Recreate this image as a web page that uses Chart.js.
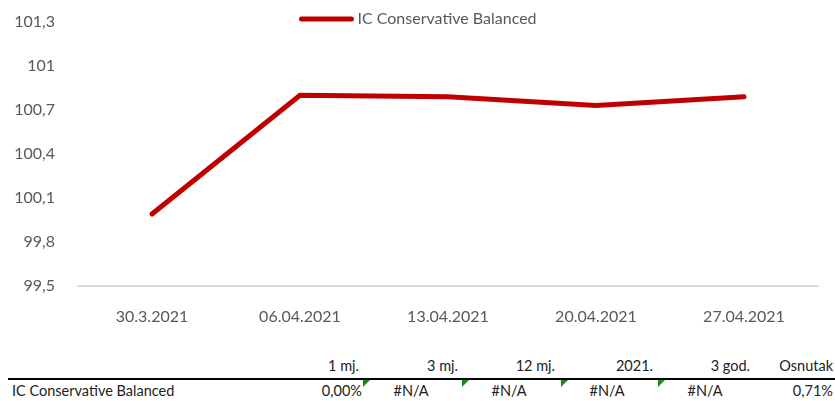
<!DOCTYPE html>
<html>
<head>
<meta charset="utf-8">
<script src="https://cdn.jsdelivr.net/npm/chart.js@4/dist/chart.umd.min.js"></script>
<style>
  html, body { margin: 0; padding: 0; background: #fff; }
  #wrap { position: relative; width: 835px; height: 401px; font-family: Lato, sans-serif; }
  #myChart { position: absolute; left: 0; top: 0; }
  .cell { position: absolute; font-size: 14.5px; color: #222; white-space: nowrap; line-height: 18px; }
  .rule { position: absolute; left: 8px; top: 378px; width: 827px; height: 2px; background: #000; }
  .err { position: absolute; width: 0; height: 0; border-top: 7px solid #1a8a1a; border-right: 7px solid transparent; }
</style>
</head>
<body>
<div id="wrap">
  <canvas id="myChart" width="835" height="347"></canvas>
  <div class="rule"></div>
</div>
<script>
// Daten
const labels = ["30.3.2021", "06.04.2021", "13.04.2021", "20.04.2021", "27.04.2021"];
const seriesName = "IC Conservative Balanced";
const values = [99.99, 100.80, 100.79, 100.73, 100.79];

// Tabelle unter dem Diagramm
const tableHeaders = ["1 mj.", "3 mj.", "12 mj.", "2021.", "3 god.", "Osnutak"];
const tableRow = ["0,00%", "#N/A", "#N/A", "#N/A", "#N/A", "0,71%"];
const errorCells = [false, true, true, true, true, false];

const red = "#c00000";
const grey = "#595959";

// Legende oben (Excel-Stil, ragt in den Plotbereich)
const topLegend = {
    id: 'topLegend',
    afterDraw(chart) {
        const c = chart.ctx;
        const ds = chart.data.datasets[0];
        c.save();
        c.font = "16px Lato";
        const tw = c.measureText(ds.label).width;
        const total = 55 + 4 + tw;
        const x0 = chart.width / 2 - total / 2;
        const y = 19;
        c.strokeStyle = ds.borderColor;
        c.lineWidth = 5;
        c.lineCap = 'round';
        c.beginPath();
        c.moveTo(x0 + 3, y);
        c.lineTo(x0 + 53, y);
        c.stroke();
        c.fillStyle = grey;
        c.textBaseline = 'middle';
        c.fillText(ds.label, x0 + 59, y);
        c.restore();
    }
};

const ctx = document.getElementById("myChart").getContext("2d");

new Chart(ctx, {
    type: 'line',
    data: {
        labels: labels,
        datasets: [
            {
                label: seriesName,
                data: values,
                borderColor: red,
                backgroundColor: red,
                borderWidth: 5,
                borderCapStyle: 'round',
                pointRadius: 0,
                tension: 0
            }
        ]
    },
    options: {
        responsive: false,
        animation: false,
        layout: {
            padding: { left: 0, right: 17, top: 22, bottom: 0 }
        },
        scales: {
            x: {
                offset: true,
                grid: { display: false, drawTicks: false },
                border: { display: true, color: "#d9d9d9", width: 2 },
                ticks: {
                    color: grey,
                    font: { family: "Lato", size: 16 },
                    padding: 21,
                    maxRotation: 0,
                    autoSkip: false
                }
            },
            y: {
                min: 99.5,
                max: 101.3,
                grid: { display: false, drawTicks: false },
                border: { display: false },
                afterFit: function (scale) {
                    scale.width = 78;
                    // Tick-Padding nicht als Rand oben/unten reservieren
                    scale.paddingTop = 0;
                    scale.paddingBottom = 0;
                },
                ticks: {
                    stepSize: 0.3,
                    color: grey,
                    padding: 23,
                    font: { family: "Lato", size: 16 },
                    callback: function (v) {
                        return String(Number(v.toFixed(1))).replace('.', ',');
                    }
                }
            }
        },
        plugins: {
            tooltip: { enabled: false },
            legend: { display: false }
        }
    },
    plugins: [topLegend]
});

// Tabelle zeichnen
const wrap = document.getElementById("wrap");
const headRight = [359, 458, 555, 653, 750, 833];
const colCenter = [null, 411, 509, 607, 705, null];
const rowRight = [362, null, null, null, null, 833];
const errLeft = [null, 363, 462, 561, 658, null];

function addCell(text, style) {
    const d = document.createElement("div");
    d.className = "cell";
    d.textContent = text;
    Object.assign(d.style, style);
    wrap.appendChild(d);
    return d;
}

tableHeaders.forEach((h, i) => {
    addCell(h, { right: (835 - headRight[i]) + "px", top: "357px" });
});

addCell(seriesName, { left: "12px", top: "382px" });

tableRow.forEach((v, i) => {
    if (colCenter[i] !== null) {
        const d = addCell(v, { top: "382px" });
        d.style.left = (colCenter[i] - d.offsetWidth / 2) + "px";
    } else {
        addCell(v, { right: (835 - rowRight[i]) + "px", top: "382px" });
    }
    if (errorCells[i]) {
        const e = document.createElement("div");
        e.className = "err";
        e.style.left = errLeft[i] + "px";
        e.style.top = "380px";
        wrap.appendChild(e);
    }
});
</script>
</body>
</html>
